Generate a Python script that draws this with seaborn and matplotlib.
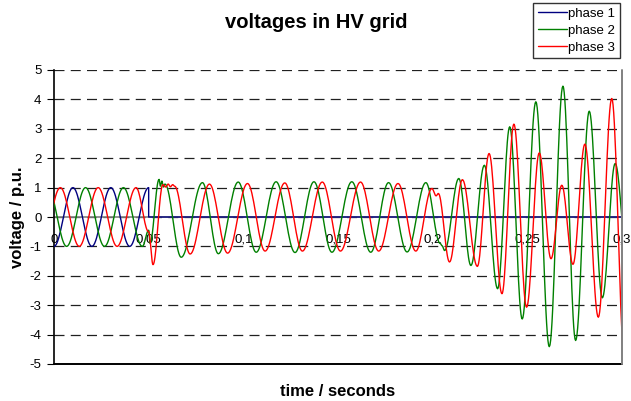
import matplotlib
matplotlib.use('Agg')
from matplotlib import pyplot as plt
import seaborn as sns
import pandas as pd
import numpy as np

# turning points of each phase (time in s, voltage in p.u.)
phase1_t = [0.0, 0.01, 0.02, 0.03, 0.04, 0.05, 0.05, 0.3]
phase1_v = [-1.0, 1.0, -1.0, 1.0, -1.0, 1.0, 0.0, 0.0]

phase2_t = [-0.00333, 0.00667, 0.01667, 0.02667, 0.03667, 0.04667, 0.0500, 0.0507,
            0.0555, 0.0562, 0.0570, 0.0578, 0.0586, 0.0672, 0.0784, 0.0868, 0.0973,
            0.1068, 0.1173, 0.1273, 0.1373, 0.1468, 0.1573, 0.1673, 0.1767, 0.1865,
            0.1964, 0.2040, 0.2050, 0.2063, 0.2138, 0.2202, 0.2273, 0.2343, 0.2407,
            0.2473, 0.2545, 0.2616, 0.2688, 0.2755, 0.2827, 0.2896, 0.2964, 0.3032]
phase2_v = [1.0, -1.0, 1.0, -1.0, 1.0, -1.0, -0.45, -0.9,
            1.28, 1.05, 1.22, 1.02, 1.12, -1.37, 1.17, -1.25, 1.19,
            -1.2, 1.2, -1.21, 1.2, -1.2, 1.2, -1.2, 1.17, -1.19,
            1.17, -0.9, -0.98, -1.14, 1.31, -1.65, 1.76, -2.44, 3.07,
            -3.47, 3.92, -4.41, 4.45, -4.2, 3.6, -2.75, 1.82, -1.7]

phase3_t = [-0.00667, 0.00333, 0.01333, 0.02333, 0.03333, 0.04333, 0.0500, 0.0523,
            0.0575, 0.0590, 0.0603, 0.0615, 0.0627, 0.0637, 0.0719, 0.0821, 0.0917,
            0.1022, 0.1115, 0.1219, 0.1312, 0.1417, 0.1513, 0.1619, 0.1715, 0.1817,
            0.1911, 0.1996, 0.2018, 0.2030, 0.2089, 0.2157, 0.2236, 0.2298, 0.2366,
            0.2429, 0.2496, 0.2563, 0.2625, 0.2682, 0.2741, 0.2804, 0.2875, 0.2946,
            0.3014]
phase3_v = [-1.0, 1.0, -1.0, 1.0, -1.0, 1.0, -0.5, -1.62,
            1.1, 1.02, 1.12, 1.03, 1.1, 1.05, -1.26, 1.12, -1.23,
            1.14, -1.16, 1.16, -1.16, 1.19, -1.16, 1.19, -1.16, 1.14,
            -1.16, 0.97, 0.72, 0.8, -1.53, 1.27, -1.68, 2.16, -2.61,
            3.16, -3.07, 2.18, -1.42, 1.08, -1.61, 2.48, -3.41, 4.03,
            -4.9]

phase_names = ['phase 1', 'phase 2', 'phase 3']
phase_colors = ['#000080', '#008000', '#ff0000']

x_ticks = [0.0, 0.05, 0.1, 0.15, 0.2, 0.25, 0.3]
x_tick_labels = ['0', '0,05', '0,1', '0,15', '0,2', '0,25', '0,3']
y_ticks = [-5, -4, -3, -2, -1, 0, 1, 2, 3, 4, 5]


def curve(times, values, n=20):
    # swing between consecutive turning points like a half sine wave
    ts, vs = [], []
    for t0, v0, t1, v1 in zip(times[:-1], values[:-1], times[1:], values[1:]):
        f = np.linspace(0, 1, n, endpoint=False)
        ts.extend(t0 + (t1 - t0) * f)
        vs.extend(v0 + (v1 - v0) * (1 - np.cos(np.pi * f)) / 2)
    ts.append(times[-1])
    vs.append(values[-1])
    return ts, vs


def build_frame():
    parts = []
    for name, t, v in zip(phase_names, [phase1_t, phase2_t, phase3_t],
                          [phase1_v, phase2_v, phase3_v]):
        ts, vs = curve(t, v)
        parts.append(pd.DataFrame({'time': ts, 'voltage': vs, 'phase': name}))
    return pd.concat(parts, ignore_index=True)


def plot_voltages():
    sns.set_style('white')
    plt.rcParams['font.family'] = ['Liberation Sans', 'DejaVu Sans']
    plt.rcParams['axes.unicode_minus'] = False
    plt.rcParams['text.color'] = 'black'
    plt.rcParams['axes.labelcolor'] = 'black'
    plt.rcParams['xtick.color'] = 'black'
    plt.rcParams['ytick.color'] = 'black'

    df = build_frame()

    fig = plt.figure(figsize=(6.31, 4.01), dpi=100)
    ax = fig.add_axes([54 / 631, 1 - 364 / 401, 568 / 631, 294 / 401])

    sns.lineplot(data=df, x='time', y='voltage', hue='phase', palette=phase_colors,
                 hue_order=phase_names, sort=False, estimator=None, lw=1.0,
                 zorder=3, ax=ax)

    ax.set_xlim(0, 0.3)
    ax.set_ylim(-5, 5)
    ax.set_xticks(x_ticks)
    ax.set_xticklabels(x_tick_labels)
    ax.set_yticks(y_ticks)
    ax.tick_params(axis='x', direction='out', length=3, pad=9, labelsize=9.5,
                   color='#808080', labelcolor='black')
    ax.tick_params(axis='y', direction='out', length=5, pad=4, labelsize=9.5,
                   color='black', labelcolor='black', left=True)
    ax.set_xlabel('')
    ax.set_ylabel('')

    ax.yaxis.grid(True, color='#202020', linestyle=(0, (8, 5)), lw=0.9)
    ax.xaxis.grid(False)
    ax.set_axisbelow(True)

    ax.spines['bottom'].set_position(('data', 0))
    ax.spines['bottom'].set_color('#808080')
    ax.spines['bottom'].set_linewidth(1.2)
    ax.spines['bottom'].set_zorder(2)
    ax.spines['left'].set_color('black')
    ax.spines['left'].set_linewidth(1.2)
    ax.spines['top'].set_visible(False)
    ax.spines['right'].set_visible(False)
    ax.axhline(-5, color='black', lw=1.4, clip_on=False, zorder=5)
    ax.axvline(0.3, color='#808080', lw=1.4, clip_on=False, zorder=5)

    leg = ax.legend(loc='upper left', bbox_to_anchor=(533 / 631, 1 - 3 / 401),
                    bbox_transform=fig.transFigure, frameon=True, fancybox=False,
                    fontsize=9.5, handlelength=2.2, handletextpad=0.1,
                    labelspacing=0.35, borderpad=0.35, borderaxespad=0)
    leg.get_frame().set_edgecolor('black')
    leg.get_frame().set_linewidth(1.0)

    fig.text(316 / 631, 1 - 23 / 401, 'voltages in HV grid', ha='center', va='center',
             fontsize=14.5, fontweight='bold')
    fig.text(338 / 631, 1 - 391 / 401, 'time / seconds', ha='center', va='center',
             fontsize=12, fontweight='bold')
    fig.text(18 / 631, 1 - 217 / 401, 'voltage / p.u.', ha='center', va='center',
             rotation=90, fontsize=12, fontweight='bold')

    plt.savefig('out.png', dpi=100)


if __name__ == '__main__':
    plot_voltages()
